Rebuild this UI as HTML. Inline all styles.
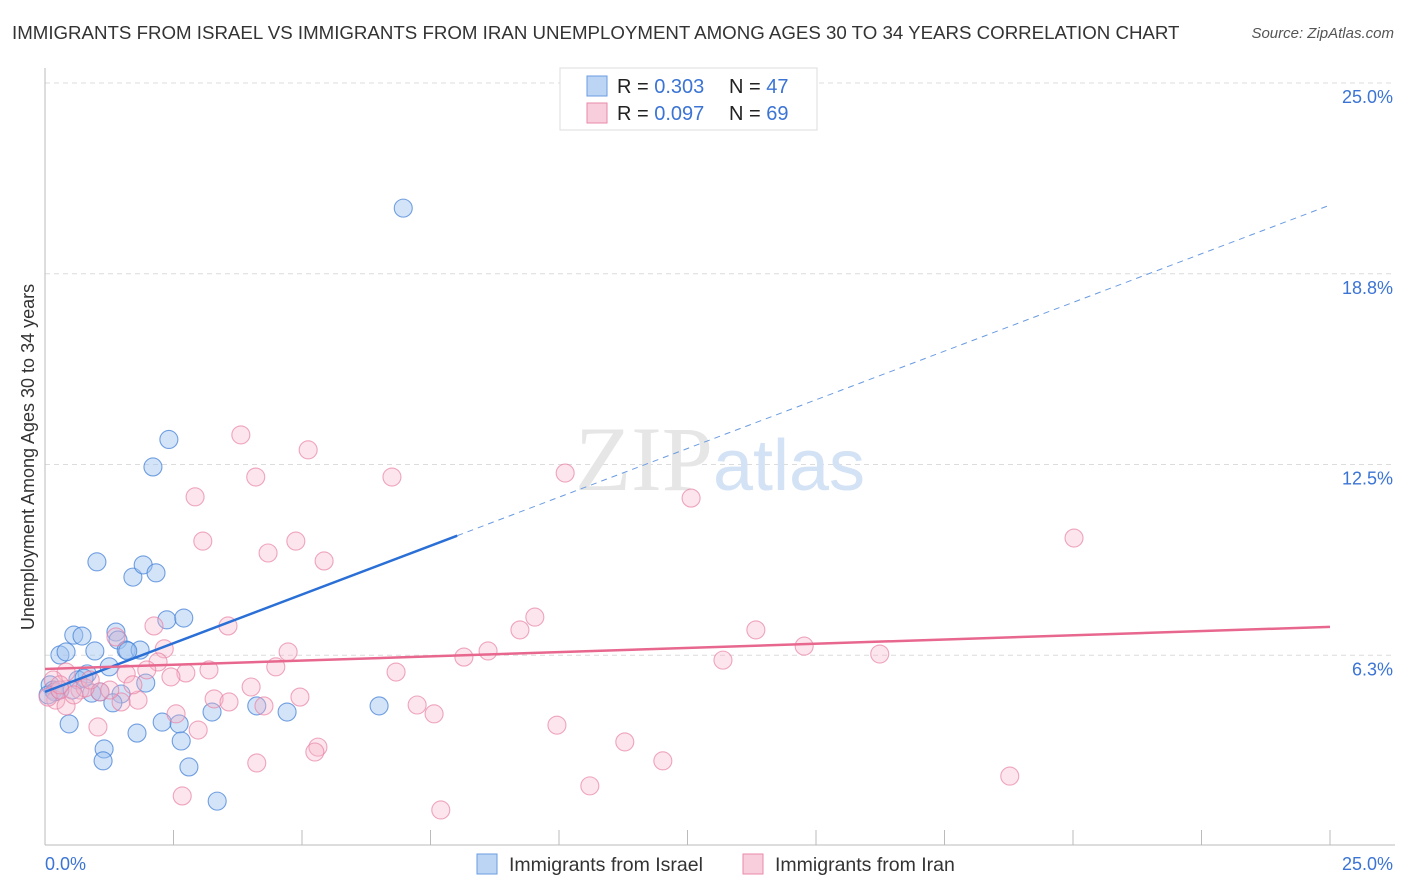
<!DOCTYPE html>
<html><head><meta charset="utf-8"><style>
body{margin:0;background:#fff;font-family:"Liberation Sans",sans-serif}
#wrap{position:relative;width:1406px;height:892px;overflow:hidden}
.t{position:absolute;white-space:nowrap}
</style></head><body>
<div id="wrap">
<div class="t" style="left:12px;top:22px;font-size:18.7px;color:#333">IMMIGRANTS FROM ISRAEL VS IMMIGRANTS FROM IRAN UNEMPLOYMENT AMONG AGES 30 TO 34 YEARS CORRELATION CHART</div>
<div class="t" style="right:12px;top:25px;font-size:15px;color:#555;font-style:italic">Source: ZipAtlas.com</div>
<svg id="svg" width="1406" height="892" style="position:absolute;left:0;top:0"></svg>
</div>
<script>
const xCats=["0.0%","25.0%"];
const yTicks=[6.25,12.5,18.75,25];
const yTickLabels=["6.3%","12.5%","18.8%","25.0%"];
const israelX=[6.97,2.41,2.10,1.01,1.71,1.91,2.16,2.37,2.70,0.56,0.72,1.38,1.42,0.29,0.41,0.97,1.58,1.85,1.61,1.25,0.82,1.96,0.64,0.10,0.16,0.19,0.91,1.48,1.07,1.32,0.47,2.28,2.61,1.79,1.15,1.13,2.65,2.80,3.25,3.35,4.12,4.71,6.50,0.06,0.29,0.53,0.76];
const israelY=[20.9,13.32,12.42,9.31,8.81,9.21,8.95,7.41,7.47,6.91,6.88,7.01,6.75,6.26,6.36,6.39,6.42,6.42,6.39,5.87,5.64,5.34,5.44,5.28,5.11,5.05,5.01,4.98,5.05,4.69,4.00,4.06,4.00,3.70,3.18,2.79,3.44,2.59,4.39,1.47,4.59,4.39,4.59,4.95,5.11,5.11,5.50];
const iranX=[3.81,5.12,6.75,4.10,10.12,2.92,12.57,3.07,4.34,4.88,5.43,20.02,9.53,9.24,3.56,2.12,1.38,2.32,13.83,14.77,16.24,13.19,8.62,8.15,4.73,3.19,2.74,2.20,2.45,1.98,1.58,4.49,6.83,4.01,3.29,3.58,4.96,1.81,1.48,4.26,7.24,7.57,0.21,0.06,0.29,0.41,0.68,1.07,2.55,2.98,1.03,9.96,11.28,5.31,5.25,12.02,4.12,2.67,10.60,7.70,18.77,0.41,0.16,0.78,1.26,1.71,0.56,0.29,0.88];
const iranY=[13.47,12.98,12.09,12.09,12.22,11.44,11.40,9.99,9.60,9.99,9.34,10.09,7.50,7.08,7.21,7.21,6.85,6.46,7.08,6.55,6.29,6.09,6.39,6.19,6.36,5.77,5.67,6.03,5.54,5.77,5.64,5.87,5.70,5.21,4.82,4.72,4.88,4.78,4.72,4.59,4.62,4.33,4.78,4.88,5.11,4.59,5.11,5.05,4.33,3.80,3.90,3.96,3.41,3.24,3.08,2.79,2.72,1.64,1.97,1.18,2.29,5.70,5.44,5.18,5.11,5.28,4.95,5.28,5.44];
const israelTrend=[5.05,0.638]; // intercept, slope
const iranTrend=[5.80,0.0552];
const israelSolidEnd=8.02;

const X0=45,X1=1330,Y0=846,PPU=30.52;
const sx=v=>X0+(X1-X0)*v/25, sy=v=>Y0-v*PPU;
const svg=document.getElementById('svg');
const NS='http://www.w3.org/2000/svg';
function mk(t,a){const e=document.createElementNS(NS,t);for(const k in a)e.setAttribute(k,a[k]);svg.appendChild(e);return e;}

yTicks.forEach((v,i)=>{
 const g=mk('line',{x1:X0,x2:1395,y1:sy(v),y2:sy(v),stroke:'#dcdcdc','stroke-dasharray':'5,4'});
 
 
 const t=mk('text',{x:1393,y:sy(v)+20,'text-anchor':'end','font-size':18,fill:'#3b74d4'});
 t.textContent=yTickLabels[i];
 
 
});
let a=mk('line',{x1:X0,x2:X0,y1:68,y2:845,stroke:'#bbb'});


a=mk('line',{x1:X0,x2:1395,y1:845,y2:845,stroke:'#bbb'});


for(let i=0;i<=10;i++){const x=sx(i*2.5);const tk=mk('line',{x1:x,x2:x,y1:830,y2:845,stroke:'#bbb'});
 
 }
let tl=mk('text',{x:45,y:870,'font-size':18,fill:'#3b74d4'});tl.textContent=xCats[0];


tl=mk('text',{x:1393,y:870,'font-size':18,fill:'#3b74d4','text-anchor':'end'});tl.textContent=xCats[1];


let yt=mk('text',{x:0,y:0,'font-size':18,fill:'#333','text-anchor':'middle',transform:'translate(34,457) rotate(-90)'});
yt.textContent='Unemployment Among Ages 30 to 34 years';


let wm=mk('text',{x:720,y:490,'font-size':92,'text-anchor':'middle',fill:'#e6e6e6','font-family':'Liberation Serif'});
wm.innerHTML='ZIP<tspan fill="#d3e2f4" font-family="Liberation Sans" font-size="72">atlas</tspan>';



israelX.forEach((v,i)=>{const c=mk('circle',{cx:sx(v),cy:sy(israelY[i]),r:9,fill:'rgba(160,195,240,0.45)',stroke:'rgba(70,130,215,0.75)','stroke-width':1.1});
 
 });
iranX.forEach((v,i)=>{const c=mk('circle',{cx:sx(v),cy:sy(iranY[i]),r:9,fill:'rgba(245,180,200,0.35)',stroke:'rgba(232,130,165,0.7)','stroke-width':1.1});
 
 });

const f=(t,x)=>t[0]+t[1]*x;
let l=mk('line',{x1:sx(0),y1:sy(f(israelTrend,0)),x2:sx(israelSolidEnd),y2:sy(f(israelTrend,israelSolidEnd)),stroke:'#2a6fd6','stroke-width':2.5});


l=mk('line',{x1:sx(israelSolidEnd),y1:sy(f(israelTrend,israelSolidEnd)),x2:sx(25),y2:sy(f(israelTrend,25)),stroke:'#6a9be0','stroke-width':1,'stroke-dasharray':'6,5'});


l=mk('line',{x1:sx(0),y1:sy(f(iranTrend,0)),x2:sx(25),y2:sy(f(iranTrend,25)),stroke:'#e8678f','stroke-width':2.5});



let b=mk('rect',{x:560,y:68,width:257,height:62,fill:'#fff',stroke:'#ddd'});


[[86,'rgba(160,195,240,0.7)','#6a9be0','0.303','47'],[113,'rgba(245,185,205,0.7)','#e88aa8','0.097','69']].forEach(r=>{
 const s=mk('rect',{x:587,y:r[0]-10,width:20,height:20,fill:r[1],stroke:r[2]});
 
 
 const t=mk('text',{x:617,y:r[0]+7,'font-size':20,fill:'#222'});
 t.innerHTML='R = <tspan fill="#3b74d4">'+r[3]+'</tspan><tspan x="729">N = </tspan><tspan fill="#3b74d4">'+r[4]+'</tspan>';
 
 
});
[[477,'rgba(160,195,240,0.7)','#6a9be0','Immigrants from Israel','legend-israel'],[743,'rgba(245,185,205,0.7)','#e88aa8','Immigrants from Iran','legend-iran']].forEach(r=>{
 const s=mk('rect',{x:r[0],y:854,width:20,height:20,fill:r[1],stroke:r[2]});
 
 
 const t=mk('text',{x:r[0]+32,y:871,'font-size':19.5,fill:'#333'});
 t.textContent=r[3];
 
 
});
</script>
</body></html>
